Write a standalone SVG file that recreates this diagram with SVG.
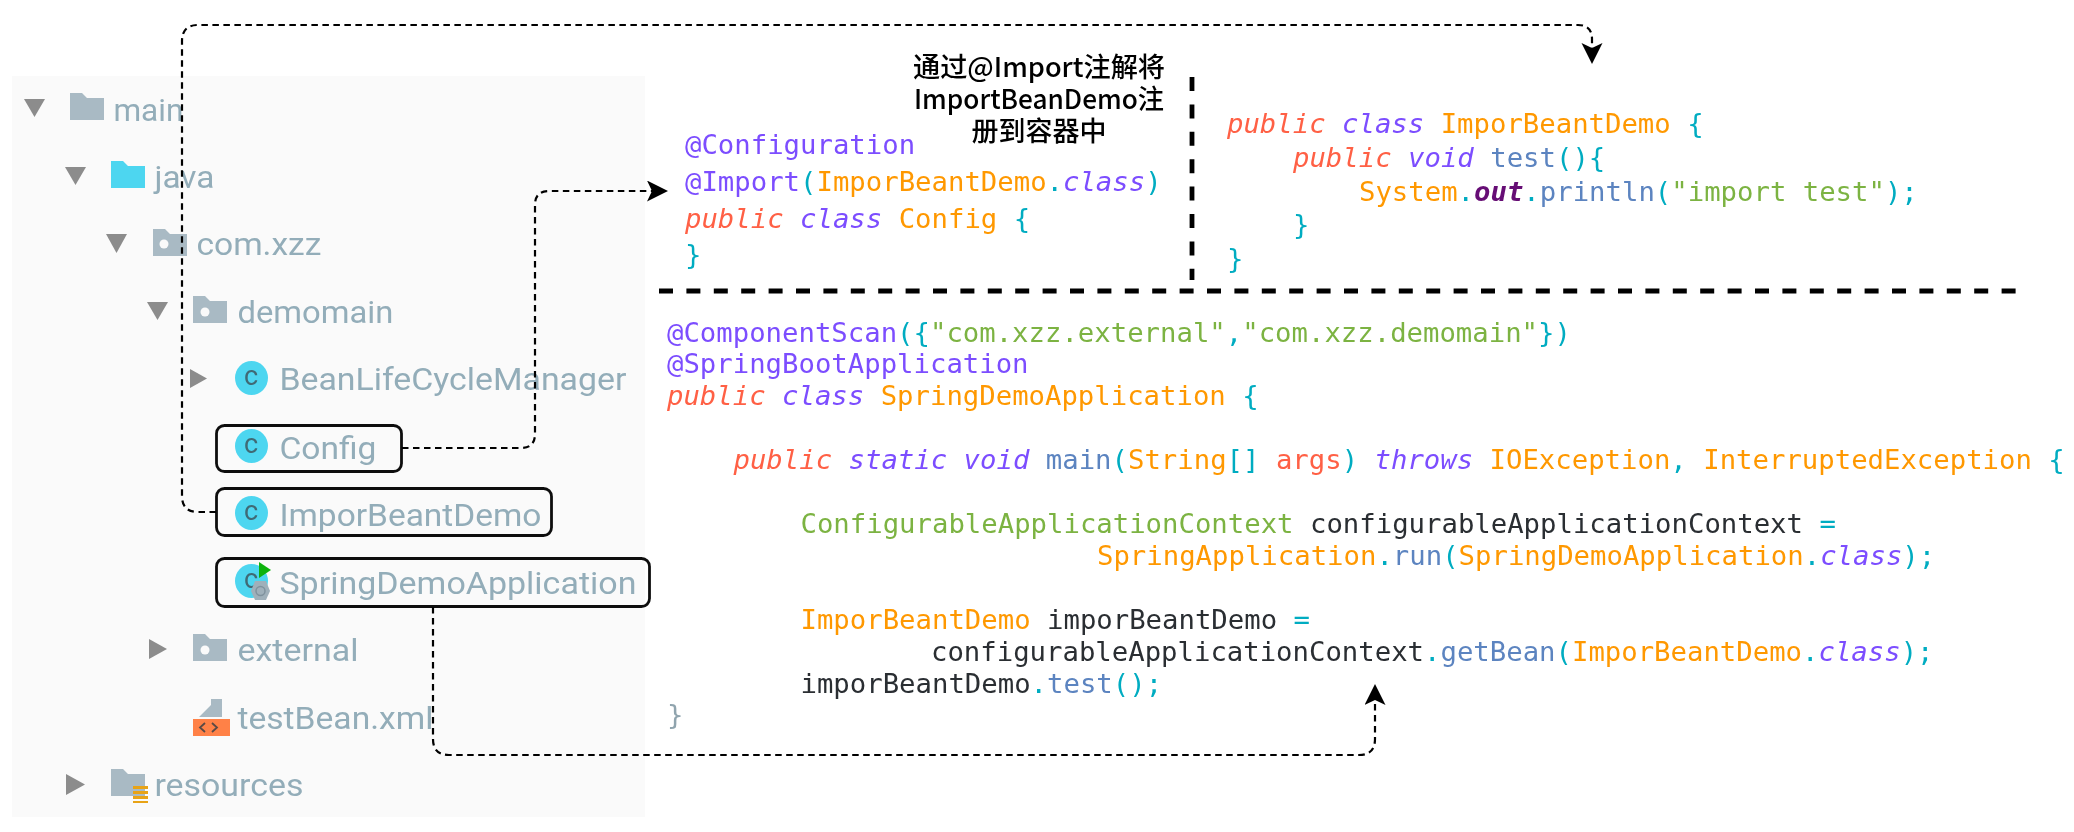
<svg xmlns="http://www.w3.org/2000/svg" width="2074" height="832" viewBox="0 0 2074 832">
<style>
.t{font-family:Roboto,"Liberation Sans",sans-serif;font-size:32px;fill:#93adb9;transform:translate(-0.6px,1px)}
.tri{fill:#8c8c8c}
.fo{fill:#a9bac4}
.cy{fill:#4dd6f0}
.hole{fill:#fafafa}
.cl{font-family:Roboto,"Liberation Sans",sans-serif;font-size:27px;fill:#3f6a75;text-anchor:middle}
.box{fill:none;stroke:#0a0a0a;stroke-width:2.8}
.code{font-family:"DejaVu Sans Mono","Liberation Mono",monospace;font-size:27.3px;fill:#2a2e33}
.p{fill:#7c4dff}.r{fill:#ff6045}.o{fill:#ff9800}.c{fill:#00acc1}.g{fill:#7cb342}.b{fill:#5c84c0}.k{fill:#2a2e33}.m{fill:#660b74;font-weight:bold}
.i{font-style:italic}
.link{fill:none;stroke:#000;stroke-width:2.2;stroke-dasharray:6.5 4.5}
.heavy{fill:none;stroke:#000;stroke-width:4.8;stroke-dasharray:14 13.4}
.zh{font-family:"Noto Sans CJK SC","DejaVu Sans",sans-serif;font-size:27px;font-weight:500;fill:#000;text-anchor:middle}
</style>
<defs>
<filter id="soft" x="-2%" y="-2%" width="104%" height="104%"><feGaussianBlur stdDeviation="0.5"/></filter>
<marker id="arrow" markerUnits="userSpaceOnUse" markerWidth="22" markerHeight="22" refX="5" refY="10.5" orient="auto"><path d="M0,0 L21,10.5 L0,21 L5,10.5 Z" fill="#000"/></marker>
<path id="folder" d="M0,27 V0 H12 L17,5 H34 V27 Z"/>
</defs>
<rect width="2074" height="832" fill="#fff"/>
<rect id="panel" x="12" y="76" width="633" height="741" fill="#fafafa"/>

<g id="tree" filter="url(#soft)">
<g id="tree-main"><path class="tri" d="M24,99 H45 L34.500,117 Z"/><use href="#folder" x="70" y="93" class="fo"/><text class="t" x="114" y="120" textLength="70" lengthAdjust="spacingAndGlyphs">main</text></g>
<g id="tree-java"><path class="tri" d="M65,167 H86 L75.500,185 Z"/><use href="#folder" x="111" y="161" class="cy"/><text class="t" x="155" y="187" textLength="60" lengthAdjust="spacingAndGlyphs">java</text></g>
<g id="tree-comxzz"><path class="tri" d="M106,234 H127 L116.500,253 Z"/><use href="#folder" x="153" y="229" class="fo"/><circle class="hole" cx="164" cy="244" r="4.500"/><text class="t" x="197" y="254" textLength="125" lengthAdjust="spacingAndGlyphs">com.xzz</text></g>
<g id="tree-demomain"><path class="tri" d="M147,302 H168 L157.500,320 Z"/><use href="#folder" x="193" y="296" class="fo"/><circle class="hole" cx="205" cy="312" r="4.500"/><text class="t" x="238" y="322" textLength="156" lengthAdjust="spacingAndGlyphs">demomain</text></g>
<g id="tree-bean"><path class="tri" d="M190,369 L207,378.500 L190,388 Z"/><ellipse class="cy" cx="251.500" cy="378" rx="16.500" ry="17"/><text class="cl" x="251" y="385">c</text><text class="t" x="280" y="389" textLength="347" lengthAdjust="spacingAndGlyphs">BeanLifeCycleManager</text></g>
<g id="tree-config"><rect class="box" x="216.500" y="425.500" width="185" height="46" rx="8"/><ellipse class="cy" cx="251.500" cy="446" rx="16.500" ry="17"/><text class="cl" x="251" y="453">c</text><text class="t" x="280" y="458" textLength="97" lengthAdjust="spacingAndGlyphs">Config</text></g>
<g id="tree-impor"><rect class="box" x="216.500" y="488.500" width="335" height="47" rx="8"/><ellipse class="cy" cx="251.500" cy="513" rx="16.500" ry="17"/><text class="cl" x="251" y="520">c</text><text class="t" x="280" y="525" textLength="262" lengthAdjust="spacingAndGlyphs">ImporBeantDemo</text></g>
<g id="tree-spring"><rect class="box" x="216.500" y="558.500" width="433" height="48" rx="8"/><ellipse class="cy" cx="251.500" cy="581" rx="16.500" ry="17"/><text class="cl" x="251" y="588">c</text><path fill="#9fb0ba" d="M255,581 H266 L270,591 L266,600 H255 L251,591 Z"/><circle cx="260.500" cy="591" r="4.500" fill="none" stroke="#7f929d" stroke-width="1.500"/><path fill="#0bb30b" d="M259,562 L271,570 L259,578 Z"/><text class="t" x="280" y="593" textLength="357" lengthAdjust="spacingAndGlyphs">SpringDemoApplication</text></g>
<g id="tree-external"><path class="tri" d="M149,639 L167,649 L149,659 Z"/><use href="#folder" x="193" y="634" class="fo"/><circle class="hole" cx="205" cy="650" r="4.500"/><text class="t" x="238" y="660" textLength="121" lengthAdjust="spacingAndGlyphs">external</text></g>
<g id="tree-xml"><path fill="#a9bac4" d="M199,717 L211,705 V699 H222 V717 Z"/><rect x="193" y="719" width="37" height="17" fill="#ff8147"/><path d="M205,723 L200,727.500 L205,732 M212,723 L217,727.500 L212,732" fill="none" stroke="#5a4a44" stroke-width="1.800"/><text class="t" x="238" y="728" textLength="196" lengthAdjust="spacingAndGlyphs">testBean.xml</text></g>
<g id="tree-resources"><path class="tri" d="M66,774 L85,784.500 L66,795 Z"/><use href="#folder" x="111" y="769" class="fo"/><path fill="#e8a317" d="M133,786 H148 V789 H133 Z M133,791 H148 V794 H133 Z M133,796 H148 V799 H133 Z M133,801 H148 V803 H133 Z"/><text class="t" x="155" y="795" textLength="149" lengthAdjust="spacingAndGlyphs">resources</text></g>
</g>

<g id="code-config" class="code" style="font-size:27.3px" filter="url(#soft)">
<text x="685" y="154" class="p">@Configuration</text>
<text x="685" y="191"><tspan class="p">@Import</tspan><tspan class="c">(</tspan><tspan class="o">ImporBeantDemo</tspan><tspan class="c">.</tspan><tspan class="p i">class</tspan><tspan class="c">)</tspan></text>
<text x="685" y="228"><tspan class="r i">public</tspan> <tspan class="p i">class</tspan> <tspan class="o">Config</tspan> <tspan class="c">{</tspan></text>
<text x="685" y="264" class="c">}</text>
</g>
<g id="code-impor" class="code" filter="url(#soft)">
<text x="1227" y="133"><tspan class="r i">public</tspan> <tspan class="p i">class</tspan> <tspan class="o">ImporBeantDemo</tspan> <tspan class="c">{</tspan></text>
<text x="1293" y="167"><tspan class="r i">public</tspan> <tspan class="p i">void</tspan> <tspan class="b">test</tspan><tspan class="c">(){</tspan></text>
<text x="1359" y="201"><tspan class="o">System</tspan><tspan class="c">.</tspan><tspan class="m i">out</tspan><tspan class="c">.</tspan><tspan class="b">println</tspan><tspan class="c">(</tspan><tspan class="g">"import test"</tspan><tspan class="c">);</tspan></text>
<text x="1293" y="234" class="c">}</text>
<text x="1227" y="268" class="c">}</text>
</g>
<g id="code-app" class="code" filter="url(#soft)">
<text x="667" y="342"><tspan class="p">@ComponentScan</tspan><tspan class="c">({</tspan><tspan class="g">"com.xzz.external"</tspan><tspan class="c">,</tspan><tspan class="g">"com.xzz.demomain"</tspan><tspan class="c">})</tspan></text>
<text x="667" y="373" class="p">@SpringBootApplication</text>
<text x="667" y="405"><tspan class="r i">public</tspan> <tspan class="p i">class</tspan> <tspan class="o">SpringDemoApplication</tspan> <tspan class="c">{</tspan></text>
<text x="733.500" y="469"><tspan class="r i">public</tspan> <tspan class="p i">static</tspan> <tspan class="p i">void</tspan> <tspan class="b">main</tspan><tspan class="c">(</tspan><tspan class="o">String</tspan><tspan class="c">[]</tspan> <tspan class="r">args</tspan><tspan class="c">)</tspan> <tspan class="p i">throws</tspan> <tspan class="o">IOException</tspan><tspan class="c">,</tspan> <tspan class="o">InterruptedException</tspan> <tspan class="c">{</tspan></text>
<text x="800.500" y="533"><tspan class="g">ConfigurableApplicationContext</tspan> <tspan class="k">configurableApplicationContext</tspan> <tspan class="c">=</tspan></text>
<text x="1097" y="565"><tspan class="o">SpringApplication</tspan><tspan class="c">.</tspan><tspan class="b">run</tspan><tspan class="c">(</tspan><tspan class="o">SpringDemoApplication</tspan><tspan class="c">.</tspan><tspan class="p i">class</tspan><tspan class="c">);</tspan></text>
<text x="800.500" y="629"><tspan class="o">ImporBeantDemo</tspan> <tspan class="k">imporBeantDemo</tspan> <tspan class="c">=</tspan></text>
<text x="931" y="661"><tspan class="k">configurableApplicationContext</tspan><tspan class="c">.</tspan><tspan class="b">getBean</tspan><tspan class="c">(</tspan><tspan class="o">ImporBeantDemo</tspan><tspan class="c">.</tspan><tspan class="p i">class</tspan><tspan class="c">);</tspan></text>
<text x="800.500" y="693"><tspan class="k">imporBeantDemo</tspan><tspan class="c">.</tspan><tspan class="b">test</tspan><tspan class="c">();</tspan></text>
<text x="667" y="724" style="fill:#90a4ae">}</text>
</g>
<g id="note">
<text class="zh" x="1039" y="77" textLength="252" lengthAdjust="spacingAndGlyphs">通过@Import注解将</text>
<text class="zh" x="1039" y="109" textLength="250" lengthAdjust="spacingAndGlyphs">ImportBeanDemo注</text>
<text class="zh" x="1039" y="141">册到容器中</text>
</g>
<g id="dividers">
<path class="heavy" d="M1192,77 V280"/>
<path class="heavy" d="M659,291 H2016"/>
</g>
<g id="connectors">
<path class="link" marker-end="url(#arrow)" d="M216,512 H198 Q182,512 182,496 V41 Q182,25 198,25 H1578 Q1592,25 1592,39 V48"/>
<path class="link" marker-end="url(#arrow)" d="M402,448 H521 Q535,448 535,434 V205 Q535,191 549,191 H652"/>
<path class="link" marker-end="url(#arrow)" d="M433,607 V739 Q433,755 449,755 H1359 Q1375,755 1375,739 V700"/>
</g>
</svg>
